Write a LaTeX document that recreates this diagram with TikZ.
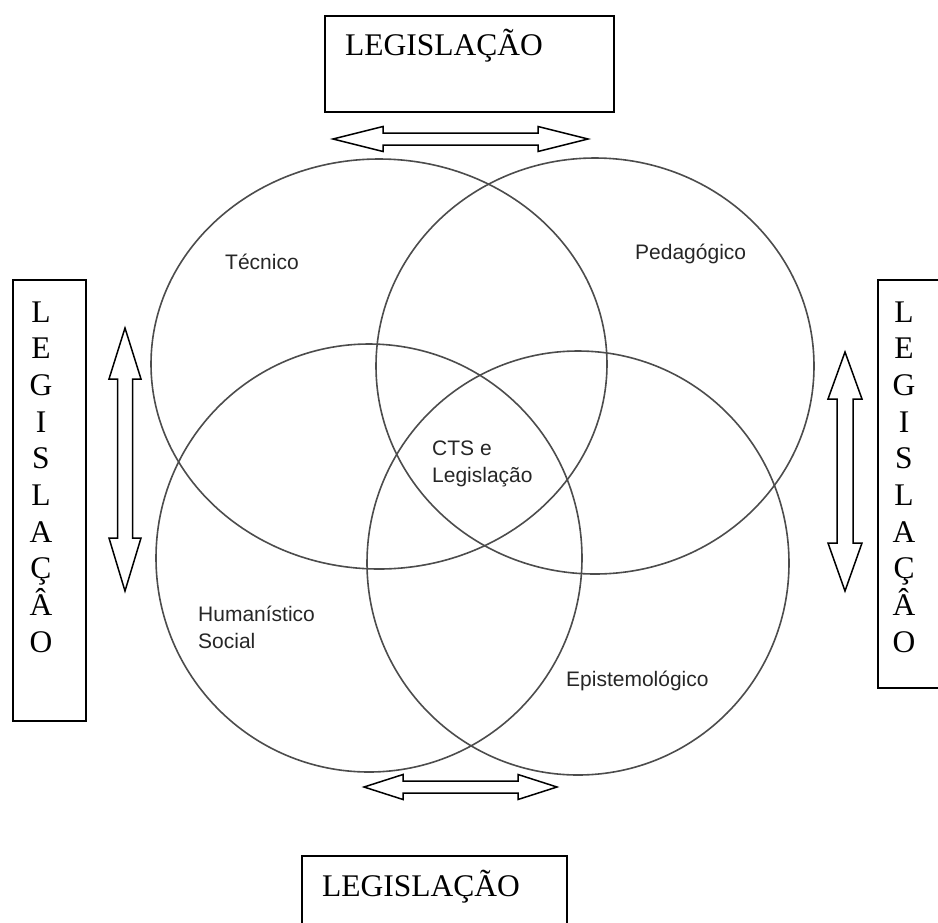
\documentclass[tikz,border=0pt]{standalone}
\usepackage{fontspec}
\setmainfont{Liberation Serif}
\setsansfont{Liberation Sans}
\begin{document}
\begin{tikzpicture}[x=1pt,y=-1pt,
  circ/.style={draw=black!70, line width=1.6pt},
  box/.style={draw=black, line width=1.8pt, inner sep=0pt, anchor=north west},
  barrow/.style={draw=black, line width=1.5pt, fill=white, line join=miter},
  serif/.style={font=\fontsize{31.5}{36}\selectfont, inner sep=0pt},
  sans/.style={font=\sffamily\fontsize{21}{25}\selectfont, inner sep=0pt, anchor=base west, text=black!85}]
\path[use as bounding box] (0,0) rectangle (938,922);
\clip (0,0) rectangle (938,922);

% circles
\draw[circ] (379,364) ellipse [x radius=228, y radius=205];
\draw[circ] (595,366) ellipse [x radius=219, y radius=208];
\draw[circ] (369,558) ellipse [x radius=213, y radius=214];
\draw[circ] (578,563) ellipse [x radius=211, y radius=212];

% boxes
\node[box, minimum width=289pt, minimum height=96pt] (topbox) at (324,15) {};
\node[box, minimum width=265pt, minimum height=100pt] (botbox) at (301,855) {};
\node[box, minimum width=73pt, minimum height=441pt] (leftbox) at (12,279) {};
\node[box, minimum width=80pt, minimum height=408pt] (rightbox) at (877,279) {};

\node[serif, anchor=base west] (toptext) at (345,55) {LEGISLAÇÃO};
\node[serif, anchor=base west] (bottext) at (322,896) {LEGISLAÇÃO};

\foreach \l [count=\i from 0] in {L,E,G,I,S,L,A,Ç,Â,O} {
  \node[serif, anchor=base] (lv\i) at (41,322+36.7*\i) {\l};
  \node[serif, anchor=base] (rv\i) at (904,322+36.7*\i) {\l};
}

% double block arrows
\draw[barrow] (333,139) -- (383,126.5) -- (383,133) -- (538,133) -- (538,126.5) -- (588,139)
  -- (538,151.5) -- (538,145) -- (383,145) -- (383,151.5) -- cycle;
\draw[barrow] (364,787) -- (403,774.5) -- (403,781) -- (518,781) -- (518,774.5) -- (557,787)
  -- (518,799.5) -- (518,793) -- (403,793) -- (403,799.5) -- cycle;
\draw[barrow] (125,328) -- (141,379) -- (132.5,379) -- (132.5,538) -- (141,538) -- (125,591)
  -- (109,538) -- (117.5,538) -- (117.5,379) -- (109,379) -- cycle;
\draw[barrow] (845,352) -- (862,399) -- (853,399) -- (853,543) -- (862,543) -- (845,591)
  -- (828,543) -- (837,543) -- (837,399) -- (828,399) -- cycle;

% labels
\node[sans] (tec) at (225,269) {Técnico};
\node[sans] (ped) at (635,259) {Pedagógico};
\node[sans] (cts) at (432,455) {CTS e};
\node[sans] (ctsl) at (432,482) {Legislação};
\node[sans] (hum) at (198,621) {Humanístico};
\node[sans] (soc) at (198,648) {Social};
\node[sans] (epi) at (566,686) {Epistemológico};
\end{tikzpicture}
\end{document}
